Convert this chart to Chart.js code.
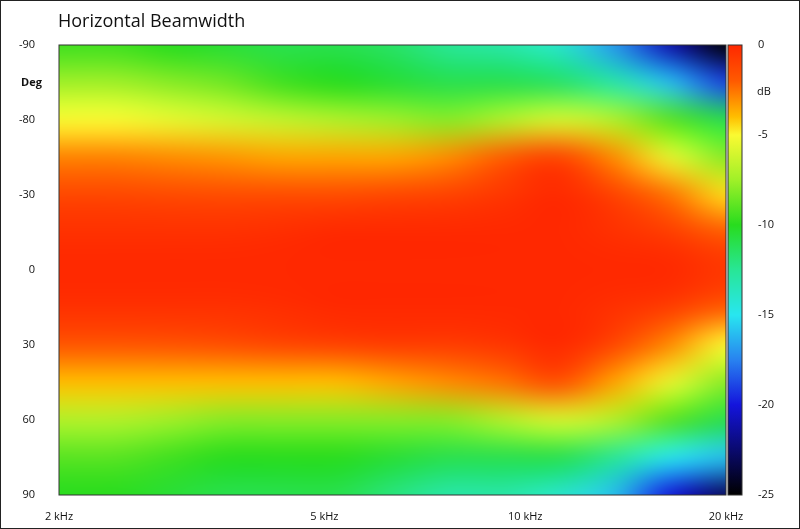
<!DOCTYPE html>
<html><head><meta charset="utf-8">
<script src="https://cdn.jsdelivr.net/npm/chart.js@4"></script>
<style>html,body{margin:0;padding:0;background:#fff}#w{width:800px;height:529px;box-sizing:border-box;border:1px solid #222}</style>
</head><body><div id="w"><canvas id="c"></canvas></div>
<script>
const freqs=[2,2.43,2.95,3.59,4.36,5.3,6.44,7.83,9.51,11.56,14.05,17.08,20];
const angles=[-90,-75,-60,-45,-30,-15,0,15,30,45,60,75,90];
const dbRows=[
[-9.5,-9.5,-10,-10.5,-11,-11,-11.5,-12.5,-13,-14,-17,-21,-25],
[-7.5,-7.5,-8,-8.5,-9.5,-10,-10.5,-11,-11,-11.5,-13,-16,-19],
[-5,-5,-5.5,-6,-6.5,-7,-7.5,-8,-7,-6,-7,-9,-11],
[-2.8,-2.8,-3,-3.2,-3.5,-3.5,-3.5,-3,-2,-1,-3,-5.5,-8],
[-1.2,-1.2,-1.3,-1.4,-1.4,-1.4,-1.2,-1,-0.5,0,-1,-2.5,-4.5],
[-0.3,-0.3,-0.3,-0.3,-0.2,0,0,0,0,0,-0.3,-0.8,-2],
[0,0,0,0,0,0,0,0,0,0,0,0,-0.5],
[-0.3,-0.3,-0.3,-0.3,-0.2,0,0,0,0,0,-0.3,-0.8,-2],
[-1.8,-1.8,-1.7,-1.5,-1.2,-1,-0.8,-0.8,-0.5,0,-1.2,-3,-5],
[-4,-4,-4,-4,-4,-4,-3.5,-3,-2.5,-1.5,-3.5,-5.5,-8],
[-7,-7,-7.5,-8,-8,-8,-8,-8,-7,-6,-7,-9,-11],
[-9,-9,-9.5,-10,-10,-10,-10.5,-11,-11,-11,-12.5,-15,-16],
[-10,-10,-10.5,-11,-11,-11,-12,-13,-13,-14,-16,-20,-23]];
const xTicks=[2,5,10,20];
const xTickLabels=['2 kHz','5 kHz','10 kHz','20 kHz'];
const yTicks=[-90,-60,-30,0,30,60,90];
const yTickLabels=['-90','-80','-30','0','30','60','90'];
const dbTicks=[0,-5,-10,-15,-20,-25];
const cmapDb=[0,-2,-4,-5,-7.5,-10,-12.5,-15,-17.5,-20,-22.5,-25];
const cmapRgb=[[255,40,0],[255,90,0],[255,190,0],[250,250,50],[160,240,40],[40,220,30],[40,230,150],[40,230,240],[40,130,240],[20,20,220],[10,10,110],[0,0,0]];
function col(v){
  if(v>=0)return cmapRgb[0];
  for(let i=1;i<cmapDb.length;i++){if(v>=cmapDb[i]){const t=(cmapDb[i-1]-v)/(cmapDb[i-1]-cmapDb[i]);const a=cmapRgb[i-1],b=cmapRgb[i];return a.map((x,k)=>Math.round(x+(b[k]-x)*t));}}
  return cmapRgb[cmapRgb.length-1];
}
const heat={id:'heat',beforeDatasetsDraw(ch){
  const {ctx,chartArea:a,scales}=ch;const xs=scales.x,ys=scales.y,yc=scales.yc;
  const off=document.createElement('canvas');off.width=freqs.length;off.height=angles.length;
  const oc=off.getContext('2d');const img=oc.createImageData(freqs.length,angles.length);
  dbRows.forEach((r,j)=>r.forEach((v,i)=>{const c=col(v);const p=(j*freqs.length+i)*4;img.data[p]=c[0];img.data[p+1]=c[1];img.data[p+2]=c[2];img.data[p+3]=255;}));
  oc.putImageData(img,0,0);
  const x0=xs.getPixelForValue(freqs[0]),x1=xs.getPixelForValue(freqs[freqs.length-1]);
  const y0=ys.getPixelForValue(angles[0]),y1=ys.getPixelForValue(angles[angles.length-1]);
  const dx=(x1-x0)/(freqs.length-1),dy=(y1-y0)/(angles.length-1);
  ctx.save();ctx.beginPath();ctx.rect(a.left,a.top,a.right-a.left,a.bottom-a.top);ctx.clip();
  ctx.imageSmoothingEnabled=true;ctx.imageSmoothingQuality='high';
  ctx.drawImage(off,x0-dx/2,y0-dy/2,x1-x0+dx,y1-y0+dy);ctx.restore();
  ctx.save();ctx.strokeStyle='#333';ctx.lineWidth=1;ctx.strokeRect(a.left,a.top,a.right-a.left,a.bottom-a.top);
  const t=yc.getPixelForValue(0),b=yc.getPixelForValue(-25);
  const g=ctx.createLinearGradient(0,t,0,b);
  cmapDb.forEach((d,i)=>g.addColorStop((0-d)/25,'rgb('+cmapRgb[i].join(',')+')'));
  ctx.fillStyle=g;ctx.fillRect(a.right+2,t,14,b-t);ctx.strokeRect(a.right+2,t,14,b-t);
  ctx.fillStyle='#111';ctx.textAlign='left';ctx.textBaseline='middle';
  ctx.font='11px "Open Sans"';ctx.fillText('dB',756,91);
  ctx.font='bold 11px "Open Sans"';ctx.fillText('Deg',20,82);
  ctx.font='18px "Open Sans"';ctx.textBaseline='alphabetic';ctx.fillText('Horizontal Beamwidth',57,26);
  ctx.restore();
}};
new Chart(document.getElementById('c'),{type:'scatter',data:{datasets:[{data:[],yAxisID:'y'},{data:[],yAxisID:'yc'}]},
options:{responsive:true,maintainAspectRatio:false,animation:false,events:[],
layout:{padding:{top:44,right:23,left:0,bottom:3}},
plugins:{legend:{display:false},tooltip:{enabled:false}},
scales:{
 x:{type:'logarithmic',min:2,max:20,grid:{display:false},border:{display:false},
   afterFit(s){s.height=30;},
   afterBuildTicks(s){s.ticks=xTicks.map(v=>({value:v}));},
   ticks:{autoSkip:false,maxRotation:0,padding:7,color:'#111',font:{size:11,family:'Open Sans'},callback:(v)=>xTickLabels[xTicks.indexOf(v)]}},
 y:{type:'linear',reverse:true,min:-90,max:90,position:'left',grid:{display:false},border:{display:false},
   afterFit(s){s.width=58;},afterBuildTicks(s){s.ticks=yTicks.map(v=>({value:v}));},
   ticks:{padding:16,color:'#111',font:{size:11,family:'Open Sans'},callback:(v)=>yTickLabels[yTicks.indexOf(v)]}},
 yc:{type:'linear',min:-25,max:0,position:'right',grid:{display:false},border:{display:false},
   afterFit(s){s.width=50;},afterBuildTicks(s){s.ticks=dbTicks.map(v=>({value:v}));},
   ticks:{padding:24,color:'#111',font:{size:11,family:'Open Sans'}}}
}},plugins:[heat]});
</script></body></html>
